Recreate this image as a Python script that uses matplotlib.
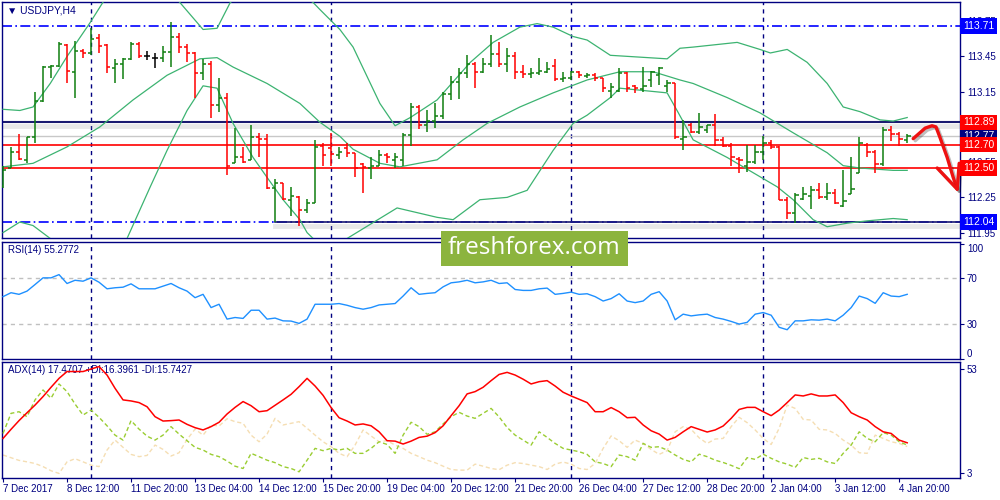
import numpy as np
import matplotlib
matplotlib.use("Agg")
import matplotlib.pyplot as plt
from matplotlib import patheffects as pe
from matplotlib import transforms
from matplotlib.patches import Rectangle

# ---- USDJPY H4 bars (bar index 0 = 7 Dec 2017 04:00) ----
OPEN = [112.35, 112.50, 112.64, 112.57, 112.76, 113.07, 113.36, 113.37, 113.55, 113.32,
        113.50, 113.48, 113.61, 113.55, 113.35, 113.39, 113.43, 113.56, 113.45, 113.44,
        113.44, 113.49, 113.62, 113.53, 113.48, 113.31, 113.39, 113.04, 113.10, 112.54,
        112.59, 112.57, 112.76, 112.75, 112.33, 112.37, 112.23, 112.25, 112.14, 112.20,
        112.69, 112.67, 112.61, 112.67, 112.63, 112.53, 112.50, 112.52, 112.61, 112.57,
        112.57, 112.78, 113.02, 112.87, 112.90, 112.94, 113.13, 113.23, 113.31, 113.39,
        113.32, 113.39, 113.47, 113.39, 113.45, 113.32, 113.30, 113.31, 113.32, 113.37,
        113.26, 113.27, 113.32, 113.28, 113.29, 113.27, 113.16, 113.16, 113.31, 113.20,
        113.17, 113.25, 113.29, 113.20, 113.22, 112.75, 112.87, 112.81, 112.82, 112.87,
        112.74, 112.69, 112.58, 112.52, 112.55, 112.64, 112.71, 112.68, 112.23, 112.12,
        112.24, 112.26, 112.31, 112.25, 112.29, 112.18, 112.28, 112.46, 112.70, 112.64,
        112.53, 112.82, 112.79, 112.74]
HIGH = [112.52, 112.68, 112.79, 112.76, 113.15, 113.37, 113.38, 113.57, 113.56, 113.58,
        113.51, 113.69, 113.64, 113.56, 113.43, 113.44, 113.57, 113.57, 113.50, 113.48,
        113.54, 113.74, 113.65, 113.56, 113.49, 113.43, 113.41, 113.27, 113.14, 112.84,
        112.68, 112.87, 112.80, 112.79, 112.41, 112.37, 112.34, 112.26, 112.24, 112.74,
        112.71, 112.80, 112.68, 112.71, 112.63, 112.54, 112.59, 112.65, 112.63, 112.63,
        112.80, 113.05, 113.04, 112.99, 113.05, 113.15, 113.28, 113.35, 113.46, 113.40,
        113.44, 113.63, 113.57, 113.52, 113.49, 113.38, 113.35, 113.44, 113.40, 113.43,
        113.32, 113.33, 113.33, 113.31, 113.31, 113.27, 113.22, 113.35, 113.32, 113.21,
        113.36, 113.33, 113.36, 113.25, 113.22, 112.91, 112.88, 112.97, 112.87, 112.96,
        112.76, 112.71, 112.59, 112.70, 112.70, 112.77, 112.74, 112.69, 112.25, 112.29,
        112.34, 112.35, 112.37, 112.37, 112.32, 112.48, 112.59, 112.76, 112.71, 112.65,
        112.85, 112.86, 112.81, 112.79]
LOW = [112.33, 112.50, 112.57, 112.54, 112.71, 113.06, 113.27, 113.36, 113.22, 113.10,
       113.44, 113.46, 113.48, 113.31, 113.22, 113.26, 113.42, 113.44, 113.42, 113.35,
       113.40, 113.36, 113.48, 113.40, 113.10, 113.25, 112.93, 112.98, 112.44, 112.54,
       112.54, 112.57, 112.59, 112.32, 112.04, 112.23, 112.09, 112.01, 112.12, 112.20,
       112.52, 112.52, 112.58, 112.59, 112.42, 112.29, 112.41, 112.52, 112.54, 112.50,
       112.52, 112.69, 112.83, 112.81, 112.84, 112.92, 113.08, 113.09, 113.27, 113.18,
       113.31, 113.36, 113.36, 113.32, 113.26, 113.27, 113.27, 113.29, 113.31, 113.24,
       113.23, 113.25, 113.27, 113.27, 113.24, 113.15, 113.10, 113.15, 113.15, 113.14,
       113.15, 113.19, 113.21, 113.15, 112.75, 112.65, 112.80, 112.79, 112.80, 112.69,
       112.68, 112.52, 112.46, 112.47, 112.53, 112.57, 112.66, 112.23, 112.07, 112.03,
       112.23, 112.15, 112.24, 112.23, 112.19, 112.17, 112.28, 112.46, 112.59, 112.46,
       112.52, 112.73, 112.69, 112.71]
CLOSE = [112.48, 112.64, 112.58, 112.76, 113.07, 113.36, 113.37, 113.56, 113.33, 113.50,
         113.48, 113.60, 113.54, 113.36, 113.39, 113.43, 113.56, 113.45, 113.45, 113.44,
         113.49, 113.62, 113.53, 113.48, 113.31, 113.39, 113.04, 113.10, 112.52, 112.59,
         112.55, 112.76, 112.75, 112.33, 112.37, 112.24, 112.26, 112.14, 112.20, 112.68,
         112.61, 112.62, 112.64, 112.63, 112.50, 112.51, 112.52, 112.61, 112.59, 112.59,
         112.78, 113.02, 112.87, 112.90, 112.94, 113.13, 113.23, 113.31, 113.39, 113.32,
         113.39, 113.47, 113.39, 113.45, 113.32, 113.30, 113.31, 113.33, 113.34, 113.26,
         113.27, 113.32, 113.29, 113.29, 113.27, 113.18, 113.19, 113.31, 113.18, 113.18,
         113.20, 113.32, 113.35, 113.22, 112.76, 112.76, 112.81, 112.85, 112.87, 112.74,
         112.69, 112.59, 112.57, 112.55, 112.64, 112.71, 112.68, 112.23, 112.12, 112.27,
         112.28, 112.31, 112.25, 112.29, 112.20, 112.22, 112.32, 112.71, 112.64, 112.53,
         112.82, 112.79, 112.75, 112.77]

# ---- Bollinger bands, read as (bar, price) vertices ----
BB_UP_X = [0.0, 2.1, 3.75, 5.9, 8.0, 10.9, 14.6, 18.4, 22.1, 25.0, 26.75, 28.4, 33.4, 38.75,
           39.6, 42.1, 43.75, 47.1, 49.0, 50.9, 54.25, 58.4, 61.25, 64.6, 66.75, 68.75,
           71.25, 73.0, 75.9, 83.0, 84.6, 86.25, 91.75, 94.6, 95.9, 98.0, 100.5, 103.0,
           105.0, 107.1, 109.6, 111.25, 113.0]
BB_UP = [113.00, 112.99, 113.02, 113.22, 113.45, 113.74, 114.14, 114.23, 113.91, 113.68,
         113.69, 113.91, 114.14, 113.91, 113.85, 113.68, 113.53, 113.05, 112.86, 112.93,
         113.08, 113.40, 113.57, 113.70, 113.73, 113.70, 113.62, 113.59, 113.46, 113.43,
         113.52, 113.53, 113.57, 113.51, 113.48, 113.51, 113.40, 113.22, 113.02, 112.98,
         112.91, 112.90, 112.93]
BB_MID_X = [0.0, 3.75, 8.0, 12.1, 16.25, 20.5, 24.6, 26.75, 28.75, 33.0, 37.1, 39.6, 42.1,
            43.75, 47.1, 49.6, 54.25, 57.5, 60.5, 64.6, 68.75, 73.0, 77.1, 81.25, 84.6,
            86.25, 90.5, 94.6, 98.75, 103.0, 105.0, 107.1, 111.25, 113.0]
BB_MID = [112.51, 112.54, 112.68, 112.85, 113.08, 113.29, 113.43, 113.44, 113.36, 113.22,
          113.05, 112.89, 112.77, 112.66, 112.54, 112.51, 112.57, 112.74, 112.88, 113.02,
          113.14, 113.25, 113.32, 113.32, 113.25, 113.22, 113.10, 112.97, 112.80, 112.63,
          112.52, 112.50, 112.48, 112.48]
BB_LOW_X = [0.0, 2.1, 3.75, 5.9, 10.9, 15.5, 18.4, 20.5, 23.0, 25.0, 26.75, 28.75, 31.25,
            33.0, 35.0, 37.1, 38.0, 40.25, 43.0, 49.25, 54.25, 56.25, 59.6, 63.0, 65.5,
            68.75, 71.25, 73.0, 75.9, 77.1, 83.0, 84.4, 86.25, 90.5, 93.75, 96.75, 98.75,
            101.25, 103.0, 105.5, 108.0, 111.25, 113.0]
BB_LOW = [111.95, 112.04, 112.01, 111.90, 111.67, 111.90, 112.34, 112.65, 112.99, 113.20,
          113.18, 112.88, 112.59, 112.42, 112.23, 112.06, 111.95, 111.80, 111.90, 112.16,
          112.08, 112.06, 112.23, 112.25, 112.31, 112.65, 112.88, 112.95, 113.10, 113.18,
          113.14, 112.97, 112.74, 112.59, 112.46, 112.34, 112.23, 112.06, 112.00, 112.03,
          112.05, 112.07, 112.06]

# ---- RSI(14) ----
RSI = [54.1, 57.5, 56.1, 58.9, 64.6, 70.4, 70.4, 73.2, 65.5, 68.3,
       67.5, 70.4, 66.6, 60.9, 61.8, 62.3, 65.2, 60.9, 60.9, 60.9,
       63.2, 65.5, 61.8, 58.9, 53.2, 56.1, 44.6, 47.5, 34.6, 36.0,
       35.2, 42.3, 42.3, 34.6, 35.5, 33.1, 32.9, 30.9, 34.6, 47.5,
       47.5, 47.5, 48.1, 46.6, 44.6, 43.2, 44.6, 46.9, 47.5, 48.1,
       54.6, 61.8, 56.1, 56.9, 57.5, 62.6, 66.1, 66.9, 68.3, 66.1,
       66.9, 68.3, 65.5, 66.1, 60.3, 59.5, 59.5, 60.9, 61.5, 56.1,
       56.9, 58.0, 56.1, 56.6, 54.1, 50.3, 52.4, 56.6, 50.3, 48.9,
       50.3, 56.1, 58.4, 50.3, 34.0, 38.9, 37.4, 38.3, 38.9, 36.0,
       34.6, 32.6, 30.3, 31.8, 38.9, 40.3, 38.0, 27.5, 25.4, 33.1,
       33.1, 34.0, 33.7, 34.6, 33.1, 38.0, 44.6, 54.6, 52.4, 48.3,
       57.5, 54.6, 54.1, 56.1]

# ---- ADX(14), +DI, -DI ----
ADX = [19.6, 24.0, 28.2, 32.0, 35.7, 39.8, 44.3, 48.6, 51.9, 51.9,
       51.9, 53.1, 54.3, 50.2, 43.8, 38.2, 37.7, 36.9, 34.9, 30.1,
       28.0, 28.2, 28.5, 26.4, 24.8, 23.7, 25.3, 27.4, 31.4, 34.6,
       37.4, 35.4, 32.5, 33.0, 35.6, 38.2, 40.9, 44.6, 48.6, 44.9,
       40.4, 34.5, 29.6, 28.0, 26.1, 26.6, 25.7, 22.8, 18.5, 18.3,
       16.9, 18.3, 20.1, 20.7, 22.4, 25.7, 30.6, 35.4, 41.1, 42.2,
       44.3, 47.5, 50.5, 51.5, 50.2, 48.2, 45.9, 47.0, 47.5, 44.9,
       41.9, 40.1, 38.5, 36.9, 32.5, 32.5, 34.5, 32.5, 29.6, 29.8,
       26.1, 23.3, 21.7, 18.8, 20.1, 22.8, 25.3, 24.0, 22.7, 23.7,
       25.6, 29.3, 33.6, 34.6, 34.6, 32.5, 30.6, 33.3, 36.9, 40.6,
       40.1, 41.1, 40.1, 40.1, 40.6, 36.9, 32.0, 30.1, 28.5, 25.3,
       22.8, 22.0, 18.8, 17.5]
PLUS_DI = [22.0, 31.7, 32.5, 30.1, 38.2, 43.0, 39.0, 45.9, 42.2, 36.2,
           30.9, 33.3, 29.8, 25.7, 21.2, 18.8, 28.2, 24.1, 20.7, 18.8,
           21.2, 25.3, 21.7, 18.5, 15.3, 14.0, 11.9, 10.8, 8.7, 6.2,
           5.1, 12.4, 10.8, 9.1, 7.9, 6.0, 5.1, 3.5, 9.1, 14.8,
           13.7, 14.8, 14.0, 14.8, 12.4, 12.4, 14.8, 18.0, 16.7, 12.4,
           21.2, 27.4, 25.3, 21.6, 22.8, 26.6, 30.1, 32.2, 30.4, 29.3,
           31.7, 34.1, 30.0, 24.9, 21.2, 18.8, 16.4, 22.8, 20.1, 17.2,
           14.8, 14.0, 13.2, 11.9, 8.3, 7.5, 6.0, 11.6, 10.8, 9.1,
           17.2, 15.3, 15.6, 14.0, 11.6, 9.5, 8.3, 12.0, 10.8, 9.1,
           8.0, 6.6, 5.0, 10.3, 9.5, 12.0, 10.0, 8.3, 7.2, 5.6,
           10.4, 9.5, 10.0, 8.3, 7.5, 12.4, 16.4, 22.8, 19.6, 18.0,
           22.4, 21.2, 18.0, 16.4]
MINUS_DI = [11.6, 10.3, 9.0, 8.3, 7.5, 6.0, 4.0, 2.7, 8.3, 9.8,
            8.3, 6.7, 6.0, 14.0, 18.8, 15.3, 11.9, 10.8, 11.4, 16.4,
            14.3, 11.1, 12.7, 19.1, 24.1, 21.2, 26.1, 25.6, 29.1, 27.7,
            26.9, 21.2, 18.0, 21.7, 29.3, 26.1, 26.9, 27.7, 24.5, 21.2,
            18.0, 15.6, 12.4, 10.8, 16.4, 23.7, 20.8, 18.0, 18.5, 16.4,
            14.8, 12.4, 10.8, 9.1, 7.9, 6.2, 4.6, 4.3, 4.3, 7.2,
            6.2, 5.1, 4.5, 6.7, 7.9, 7.5, 6.7, 6.0, 4.6, 7.2,
            8.2, 7.2, 5.1, 4.6, 7.5, 14.8, 20.8, 18.5, 15.3, 18.8,
            17.2, 14.3, 11.9, 13.7, 22.8, 25.3, 24.0, 19.9, 17.2, 19.3,
            19.6, 25.3, 29.8, 27.2, 23.7, 19.6, 16.7, 24.5, 35.7, 34.1,
            28.8, 28.5, 24.0, 23.7, 22.0, 18.8, 16.4, 12.7, 12.4, 21.2,
            19.6, 18.0, 17.2, 15.7]

DATE_LABELS = ["7 Dec 2017", "8 Dec 12:00", "11 Dec 20:00", "13 Dec 04:00",
               "14 Dec 12:00", "15 Dec 20:00", "19 Dec 04:00", "20 Dec 12:00",
               "21 Dec 20:00", "26 Dec 04:00", "27 Dec 12:00", "28 Dec 20:00",
               "2 Jan 04:00", "3 Jan 12:00", "4 Jan 20:00"]
WEEK_STARTS = [11, 41, 71, 95]

# hand-drawn forecast arrow (bar, price)
ARROW_X = [113.75, 115.25, 116.1, 116.6, 117.1, 118.0, 118.75, 119.25]
ARROW_Y = [112.75, 112.84, 112.86, 112.85, 112.76, 112.59, 112.42, 112.32]
HEAD_X = [116.75, 119.25, 119.5]
HEAD_Y = [112.50, 112.32, 112.54]

NAVY = "#000080"
UP, DOWN = "#0f7f0f", "#ff0000"
BBCOL = "#3cb371"
FONT = ["Liberation Sans", "DejaVu Sans"]
plt.rcParams["font.family"] = FONT

n = len(CLOSE)
x = np.arange(n)
o, h, l, c = map(np.array, (OPEN, HIGH, LOW, CLOSE))
cols = [UP if cc > oo else DOWN if cc < oo else "black" for oo, cc in zip(o, c)]

fig = plt.figure(figsize=(10, 5), dpi=100)
ax_p = fig.add_axes([0.0023, 0.524, 0.9577, 0.472])
ax_r = fig.add_axes([0.0023, 0.282, 0.9577, 0.234])
ax_a = fig.add_axes([0.0023, 0.044, 0.9577, 0.232])
XLIM = (-0.09, 119.6)

for ax in (ax_p, ax_r, ax_a):
    ax.set_xlim(*XLIM)
    for s in ax.spines.values():
        s.set_color(NAVY)
        s.set_linewidth(1.0)
    ax.tick_params(axis="y", left=False, labelleft=False, right=True, labelright=True,
                   direction="out", length=3, colors=NAVY, labelsize=7, pad=2)
    for w in WEEK_STARTS:
        ax.axvline(w, color=NAVY, lw=1.0, dashes=(3, 3), zorder=1)

# ---- price panel ----
ax_p.set_ylim(111.904, 113.914)
ax_p.set_xticks([])
ax_p.set_yticks([111.95, 112.25, 112.55, 112.85, 113.15, 113.45, 113.75])
ax_p.set_yticklabels([f"{v:.2f}" for v in ax_p.get_yticks()])

shadow = [pe.SimpleLineShadow(offset=(0, -2.5), shadow_color="#999999", alpha=0.22,
                              linewidth=3.5), pe.Normal()]
ax_p.axhline(113.71, color="#0000ff", lw=1.2, dashes=(6, 2, 1, 2), zorder=2)
ax_p.axhline(112.04, color="#0000ff", lw=1.2, dashes=(6, 2, 1, 2), zorder=2)
ax_p.plot([34, XLIM[1]], [112.04, 112.04], color="#1a1a70", lw=1.2, zorder=2,
          path_effects=shadow)
ax_p.axhline(112.89, color="#1a1a70", lw=1.5, zorder=2, path_effects=shadow)
ax_p.axhline(112.77, color="#c8c8c8", lw=1.0, zorder=2)
ax_p.axhline(112.70, color="#ff0000", lw=1.2, zorder=2)
ax_p.axhline(112.50, color="#ff0000", lw=1.2, zorder=2)

for bx, by in ((BB_UP_X, BB_UP), (BB_MID_X, BB_MID), (BB_LOW_X, BB_LOW)):
    ax_p.plot(bx, by, color=BBCOL, lw=0.9, zorder=3)

ax_p.vlines(x, l, h, colors=cols, lw=1.1, zorder=4)
ax_p.hlines(o, x - 0.42, x, colors=cols, lw=1.1, zorder=4)
ax_p.hlines(c, x, x + 0.42, colors=cols, lw=1.1, zorder=4)

arrow_fx = [pe.SimpleLineShadow(offset=(1.5, -1.5), alpha=0.25), pe.Normal()]
ax_p.plot(ARROW_X, ARROW_Y, color="#ee1111", lw=2.4, solid_capstyle="round",
          solid_joinstyle="round", clip_on=False, zorder=6, path_effects=arrow_fx)
ax_p.plot(HEAD_X, HEAD_Y, color="#ee1111", lw=2.4, solid_capstyle="round",
          solid_joinstyle="round", clip_on=False, zorder=6, path_effects=arrow_fx)

ax_p.text(0.005, 0.965, "\u25bc USDJPY,H4", transform=ax_p.transAxes, color=NAVY,
          fontsize=7.5, va="center", ha="left", family=FONT)

yt = transforms.blended_transform_factory(ax_p.transAxes, ax_p.transData)
BOXES = [(112.77, NAVY), (112.89, "#ff0000"), (112.70, "#ff0000"), (112.50, "#ff0000"),
         (113.71, "#0000ff"), (112.04, "#0000ff")]
for k, (val, fc) in enumerate(BOXES):
    ax_p.text(1.003, val, f"{val:.2f}", transform=yt, ha="left", va="center",
              color="white", fontsize=7.5, clip_on=False, zorder=20 + k,
              bbox=dict(boxstyle="square,pad=0.25", fc=fc, ec="none"))

# ---- RSI panel ----
ax_r.set_ylim(0, 101.5)
ax_r.set_xticks([])
ax_r.plot(x, RSI, color="#1e90ff", lw=1.0, zorder=3)
for lev in (70, 30):
    ax_r.axhline(lev, color="#c0c0c0", lw=1.0, dashes=(3, 3), zorder=2)
ax_r.set_yticks([0, 30, 70, 100])
ax_r.set_yticklabels(["0", "30", "70", "100"])
lbls = ax_r.get_yticklabels()
lbls[0].set_va("bottom")
lbls[-1].set_va("top")
ax_r.text(0.006, 0.93, f"RSI(14) {55.2772:.4f}", transform=ax_r.transAxes,
          color=NAVY, fontsize=7, va="center", ha="left")

# ---- ADX panel ----
ax_a.set_ylim(0.5, 56.5)
ax_a.plot(x, MINUS_DI, color="#f5deb3", lw=1.0, dashes=(3, 2), zorder=2)
ax_a.plot(x, PLUS_DI, color="#9acd32", lw=1.0, dashes=(3, 2), zorder=3)
ax_a.plot(x, ADX, color="#ff0000", lw=1.1, zorder=4)
ax_a.set_yticks([3, 53])
ax_a.set_yticklabels(["3", "53"])
ax_a.set_xticks(np.arange(0, 8 * len(DATE_LABELS), 8))
ax_a.set_xticklabels(DATE_LABELS)
ax_a.tick_params(axis="x", direction="out", length=3, colors=NAVY, labelsize=7, pad=1)
plt.setp(ax_a.get_xticklabels(), ha="left")
ax_a.text(0.006, 0.93, "ADX(14) 17.4707 +DI:16.3961 -DI:15.7427",
          transform=ax_a.transAxes, color=NAVY, fontsize=7, va="center", ha="left")

# ---- watermark ----
fig.add_artist(Rectangle((0.441, 0.468), 0.187, 0.070, transform=fig.transFigure,
                         fc="#8cb43e", ec="none", zorder=50))
fig.text(0.5345, 0.503, "freshforex.com", color="white", fontsize=17.5,
         family=["Open Sans", "DejaVu Sans"], ha="center", va="center", zorder=51)

fig.savefig("out.png", dpi=100)
